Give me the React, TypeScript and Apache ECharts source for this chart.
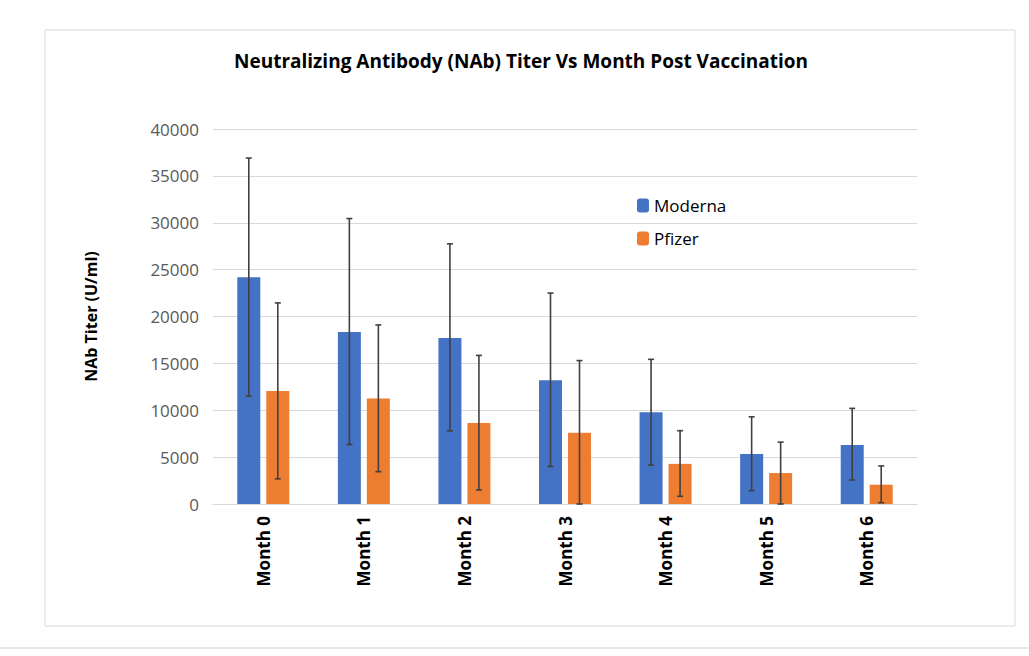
import React, { useEffect, useRef } from "react";
import * as echarts from "echarts";

const categories = ["Month 0", "Month 1", "Month 2", "Month 3", "Month 4", "Month 5", "Month 6"];
const moderna = [24200, 18350, 17700, 13200, 9800, 5330, 6300];
const modernaLow = [11500, 6350, 7800, 4000, 4150, 1420, 2560];
const modernaHigh = [36900, 30450, 27750, 22500, 15430, 9300, 10200];
const pfizer = [12050, 11250, 8650, 7600, 4280, 3300, 2060];
const pfizerLow = [2680, 3450, 1500, 0, 820, 0, 140];
const pfizerHigh = [21450, 19100, 15850, 15300, 7820, 6600, 4060];

function errSeries(low: number[], high: number[], offset: number) {
  return {
    type: "custom",
    data: categories.map((_, i) => [i, low[i], high[i]]),
    z: 10,
    renderItem: (params: any, api: any) => {
      const i = api.value(0);
      const lo = api.coord([i, api.value(1)]);
      const hi = api.coord([i, api.value(2)]);
      const x = lo[0] + offset;
      const st = { stroke: "#404040", lineWidth: 1.6 };
      return {
        type: "group",
        children: [
          { type: "line", shape: { x1: x, y1: lo[1], x2: x, y2: hi[1] }, style: st },
          { type: "line", shape: { x1: x - 3, y1: lo[1], x2: x + 3, y2: lo[1] }, style: st },
          { type: "line", shape: { x1: x - 3, y1: hi[1], x2: x + 3, y2: hi[1] }, style: st },
        ],
      };
    },
    silent: true,
  };
}

export default function App() {
  const ref = useRef<HTMLDivElement>(null);
  useEffect(() => {
    const chart = echarts.init(ref.current!, null, { renderer: "svg" });
    chart.setOption({
      animation: false,
      backgroundColor: "#ffffff",
      textStyle: { fontFamily: "'Open Sans', 'Noto Sans', sans-serif" },
      title: {
        text: "Neutralizing Antibody (NAb) Titer Vs Month Post Vaccination",
        left: 516,
        top: 46,
        textAlign: "center",
        textStyle: { fontSize: 19, fontWeight: "bold", color: "#000" },
      },
      graphic: [
        { type: "rect", shape: { x: 45, y: 30, width: 970, height: 596 }, style: { fill: "none", stroke: "#d9d9d9", lineWidth: 1 } },
        { type: "line", shape: { x1: 0, y1: 648, x2: 1029, y2: 648 }, style: { stroke: "#d0d0d0", lineWidth: 1 } },
      ],
      legend: {
        left: 632,
        top: 192,
        orient: "vertical",
        itemWidth: 12,
        itemHeight: 14,
        itemGap: 16,
        textStyle: { fontSize: 17, color: "#000" },
        data: ["Moderna", "Pfizer"],
      },
      grid: { left: 213, right: 112, top: 129, bottom: 152 },
      xAxis: {
        type: "category",
        data: categories,
        axisTick: { show: false },
        axisLine: { lineStyle: { color: "#d9d9d9" } },
        axisLabel: { rotate: 90, fontSize: 17, fontWeight: "bold", color: "#000", margin: 12 },
      },
      yAxis: {
        type: "value",
        min: 0,
        max: 40000,
        interval: 5000,
        name: "NAb Titer (U/ml)",
        nameLocation: "middle",
        nameGap: 114,
        nameTextStyle: { fontSize: 16, fontWeight: "bold", color: "#000" },
        axisLabel: { fontSize: 17, color: "#595959", margin: 14, formatter: (v: number) => String(v) },
        splitLine: { lineStyle: { color: "#d9d9d9" } },
      },
      series: [
        { name: "Moderna", type: "bar", data: moderna, barWidth: 23, barGap: "26%", itemStyle: { color: "#4472c4" } },
        { name: "Pfizer", type: "bar", data: pfizer, barWidth: 23, itemStyle: { color: "#ed7d31" } },
        errSeries(modernaLow, modernaHigh, -14.5),
        errSeries(pfizerLow, pfizerHigh, 14.5),
      ],
    });
    return () => chart.dispose();
  }, []);
  return <div ref={ref} style={{ position: "absolute", left: 0, top: 0, width: 1029, height: 656 }} />;
}
